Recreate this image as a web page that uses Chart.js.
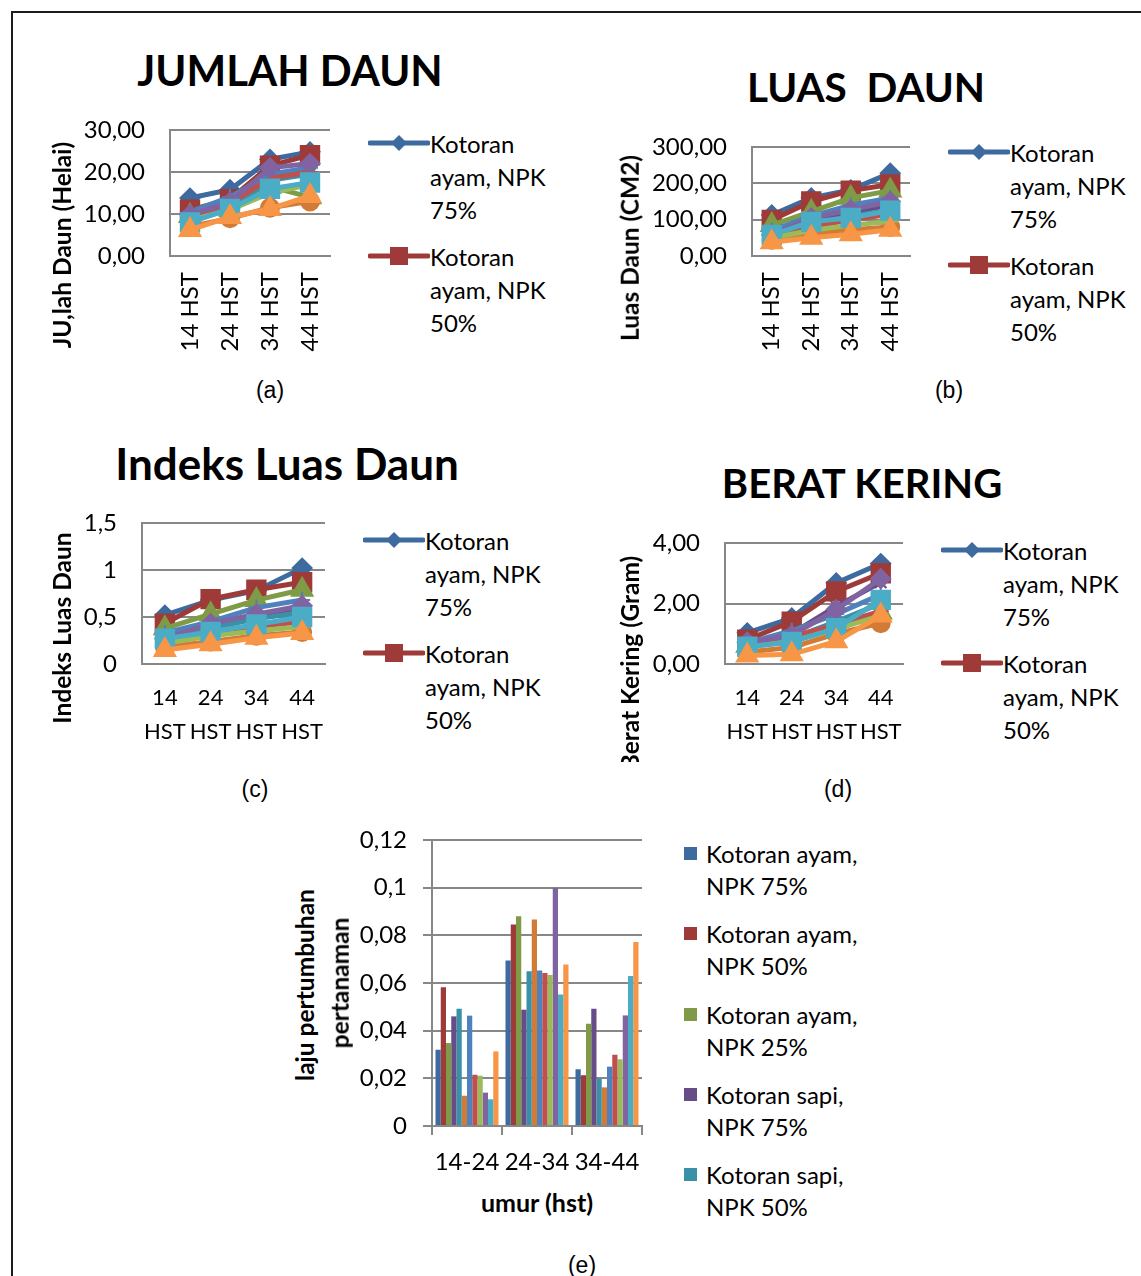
<!DOCTYPE html>
<html>
<head>
<meta charset="utf-8">
<script src="https://cdn.jsdelivr.net/npm/chart.js@4.4.0/dist/chart.umd.min.js"></script>
<style>
  body { margin: 0; width: 1141px; height: 1276px; overflow: hidden; background: #fff; position: relative; font-family: Lato, sans-serif; }
  .frame { position: absolute; left: 11px; top: 11px; width: 1200px; height: 1400px; border: 2px solid #1c1c1c; }
  canvas { position: absolute; }
  .t { position: absolute; white-space: nowrap; line-height: 1; transform: translate(-50%, -50%); color: #000; }
  .title { font-weight: 700; }
  .vt { position: absolute; white-space: nowrap; line-height: 1; transform: translate(-50%, -50%) rotate(-90deg); font-weight: 700; font-size: 24.5px; }
  .cap { font-family: "Liberation Sans", Arial, sans-serif; font-size: 23px; }
  .legend { position: absolute; overflow: hidden; font-size: 24px; color: #000; }
  .entry { position: relative; line-height: 33px; }
  .entry svg { position: absolute; left: 0; top: 6px; }
  .entry .txt { margin-left: 62px; width: 128px; }
  .bentry { position: relative; line-height: 32px; margin-bottom: 16.3px; }
  .bentry i { position: absolute; left: 0; top: 9px; width: 13px; height: 13px; }
  .bentry .txt { margin-left: 22px; width: 170px; }
</style>
</head>
<body>
<div class="frame"></div>

<canvas id="chartA"></canvas>
<canvas id="chartB"></canvas>
<canvas id="chartC"></canvas>
<canvas id="chartD"></canvas>
<canvas id="chartE"></canvas>

<div class="t title" style="left:290px;top:70px;font-size:42px">JUMLAH DAUN</div>
<div class="t title" style="left:866px;top:87px;font-size:40.5px">LUAS&nbsp; DAUN</div>
<div class="t title" style="left:287px;top:463px;font-size:44px">Indeks Luas Daun</div>
<div class="t title" style="left:862px;top:483px;font-size:40px">BERAT KERING</div>

<div class="vt" style="left:62px;top:245px">JU,lah Daun (Helai)</div>
<div class="vt" style="left:630px;top:248px">Luas Daun (CM2)</div>
<div class="vt" style="left:62px;top:628px">Indeks Luas Daun</div>
<div style="position:absolute;left:600px;top:530px;width:60px;height:232px;overflow:hidden">
  <div class="vt" style="left:30px;top:133px">Berat Kering (Gram)</div>
</div>
<div class="vt" style="left:305px;top:985px">laju pertumbuhan</div>
<div class="vt" style="left:340px;top:983px">pertanaman</div>
<div class="t title" style="left:537px;top:1202px;font-size:25px">umur (hst)</div>

<div class="t cap" style="left:270px;top:390px">(a)</div>
<div class="t cap" style="left:949px;top:390px">(b)</div>
<div class="t cap" style="left:255px;top:789px">(c)</div>
<div class="t cap" style="left:838px;top:789px">(d)</div>
<div class="t cap" style="left:582px;top:1265px">(e)</div>

<div class="legend" id="legA" style="left:368px;top:127px;width:200px;height:222px"></div>
<div class="legend" id="legB" style="left:948px;top:136px;width:190px;height:222px"></div>
<div class="legend" id="legC" style="left:363px;top:524px;width:200px;height:222px"></div>
<div class="legend" id="legD" style="left:941px;top:534px;width:200px;height:222px"></div>
<div class="legend" id="legE" style="left:684px;top:838px;width:200px;height:388px"></div>

<script>
// categories and tick labels
const CATEGORIES = ["14 HST", "24 HST", "34 HST", "44 HST"];
const CATEGORIES_WRAPPED = [["14", "HST"], ["24", "HST"], ["34", "HST"], ["44", "HST"]];
const PERIODS = ["14-24", "24-34", "34-44"];

const SERIES = [
  "Kotoran ayam, NPK 75%",
  "Kotoran ayam, NPK 50%",
  "Kotoran ayam, NPK 25%",
  "Kotoran sapi, NPK 75%",
  "Kotoran sapi, NPK 50%",
  "Kotoran sapi, NPK 25%",
  "Kotoran kambing, NPK 75%",
  "Kotoran kambing, NPK 50%",
  "Kotoran kambing, NPK 25%",
  "Kompos, NPK 75%",
  "Kompos, NPK 50%",
  "Kompos, NPK 25%",
];

// (a) jumlah daun (helai)
const jumlahDaun = [
  [13.8, 15.8, 23.0, 24.8],
  [11.0, 13.5, 21.5, 24.0],
  [9.5, 11.0, 16.5, 14.0],
  [9.0, 12.0, 19.0, 20.5],
  [8.5, 11.5, 18.0, 19.5],
  [7.0, 9.0, 11.5, 13.0],
  [10.5, 14.0, 19.5, 21.0],
  [9.5, 12.5, 18.5, 20.0],
  [8.5, 11.0, 15.0, 17.0],
  [9.8, 12.8, 21.0, 22.0],
  [8.0, 11.2, 16.0, 17.5],
  [6.2, 9.3, 11.2, 14.3],
];

// (b) luas daun (cm2)
const luasDaun = [
  [113, 160, 182, 228],
  [99, 150, 180, 197],
  [85, 122, 160, 180],
  [65, 95, 120, 140],
  [60, 88, 110, 125],
  [45, 60, 72, 80],
  [70, 110, 140, 160],
  [55, 80, 100, 115],
  [50, 70, 85, 95],
  [58, 105, 127, 150],
  [58, 94, 105, 125],
  [38, 50, 60, 72],
];

// (c) indeks luas daun
const indeksLuasDaun = [
  [0.52, 0.68, 0.78, 1.02],
  [0.43, 0.69, 0.79, 0.87],
  [0.38, 0.53, 0.68, 0.79],
  [0.30, 0.42, 0.52, 0.60],
  [0.28, 0.38, 0.48, 0.55],
  [0.18, 0.24, 0.30, 0.34],
  [0.33, 0.45, 0.60, 0.68],
  [0.25, 0.33, 0.40, 0.45],
  [0.22, 0.30, 0.35, 0.40],
  [0.27, 0.43, 0.53, 0.62],
  [0.27, 0.34, 0.42, 0.50],
  [0.15, 0.21, 0.28, 0.33],
];

// (d) berat kering (gram)
const beratKering = [
  [1.03, 1.52, 2.68, 3.32],
  [0.80, 1.40, 2.40, 3.00],
  [0.60, 0.80, 1.25, 1.70],
  [0.70, 1.00, 1.90, 2.70],
  [0.60, 0.85, 1.40, 2.00],
  [0.40, 0.55, 1.00, 1.35],
  [0.70, 1.10, 1.65, 2.30],
  [0.60, 0.90, 1.30, 1.75],
  [0.55, 0.75, 1.15, 1.60],
  [0.72, 0.95, 1.80, 2.82],
  [0.57, 0.73, 1.18, 2.12],
  [0.28, 0.32, 0.75, 1.60],
];

// (e) laju pertumbuhan pertanaman
const lajuPertumbuhan = [
  [0.0320, 0.0694, 0.0238],
  [0.0582, 0.0845, 0.0213],
  [0.0348, 0.0880, 0.0429],
  [0.0460, 0.0488, 0.0492],
  [0.0492, 0.0649, 0.0199],
  [0.0127, 0.0866, 0.0162],
  [0.0463, 0.0652, 0.0249],
  [0.0215, 0.0642, 0.0299],
  [0.0211, 0.0634, 0.0280],
  [0.0140, 0.1000, 0.0464],
  [0.0112, 0.0552, 0.0629],
  [0.0313, 0.0678, 0.0772],
];

const COLORS = ["#3d6ba0", "#9e3b38", "#7f9b45", "#664d87", "#3a91a7", "#d27b37",
                "#4f81bd", "#c0504d", "#9bbb59", "#8064a2", "#4bacc6", "#f79646"];
const MARKERS = ["rectRot", "rect", "triangle", "crossRot", "star", "circle",
                 "cross", "dash", "line", "rectRot", "rect", "triangle"];
const RADIUS = { rectRot: 9.5, rect: 13, triangle: 12, circle: 9, crossRot: 8, star: 8, cross: 8, dash: 8, line: 8 };
const GRID = "#878787";
const Y_FONT = { family: "Lato", size: 24 };
const X_FONT = { family: "Lato", size: 24 };
const X_FONT_WRAP = { family: "Lato", size: 22, lineHeight: "34px" };

const fmt2 = (v) => v.toFixed(2).replace(".", ",");
const fmtGeneral = (v) => String(+v.toFixed(2)).replace(".", ",");

// pin the plot area to the pixel box measured on the picture
const fixArea = {
  id: "fixArea",
  afterLayout(chart, args, opts) {
    const p = opts.plot;
    const ca = chart.chartArea;
    ca.left = p.l; ca.top = p.t; ca.right = p.r; ca.bottom = p.b;
    ca.width = p.r - p.l; ca.height = p.b - p.t;
    const x = chart.scales.x, y = chart.scales.y;
    x.left = p.l; x.right = p.r; x.width = p.r - p.l;
    x.top = p.b; x.bottom = chart.height; x.height = chart.height - p.b;
    y.left = 0; y.right = p.l; y.width = p.l;
    y.top = p.t; y.bottom = p.b; y.height = p.b - p.t;
    x.configure();
    y.configure();
  },
};

function place(id, box) {
  const el = document.getElementById(id);
  el.width = box.w;
  el.height = box.h;
  el.style.left = box.x + "px";
  el.style.top = box.y + "px";
  return el;
}

function localPlot(box, plot) {
  return { l: plot.l - box.x, t: plot.t - box.y, r: plot.r - box.x, b: plot.b - box.y };
}

function lineChart(id, box, plot, yMax, step, fmt, labels, values, rotated, xPad) {
  const el = place(id, box);
  return new Chart(el, {
    type: "line",
    data: {
      labels: labels,
      datasets: values.map((vals, i) => ({
        label: SERIES[i],
        data: vals,
        borderColor: COLORS[i],
        backgroundColor: COLORS[i],
        pointBorderColor: COLORS[i],
        pointBackgroundColor: COLORS[i],
        borderWidth: 5,
        pointStyle: MARKERS[i],
        pointRadius: RADIUS[MARKERS[i]],
        pointBorderWidth: 2,
        tension: 0,
        order: 12 - i,
      })),
    },
    plugins: [fixArea],
    options: {
      responsive: false,
      animation: false,
      devicePixelRatio: 1,
      layout: { autoPadding: false, padding: { left: 0, top: plot.t - box.y, right: box.x + box.w - plot.r, bottom: 0 } },
      plugins: {
        legend: { display: false },
        tooltip: { enabled: false },
        title: { display: false },
        fixArea: { plot: localPlot(box, plot) },
      },
      scales: {
        x: {
          type: "category",
          offset: true,
          grid: { display: false, drawTicks: false },
          border: { display: true, color: GRID, width: 2 },
          ticks: {
            color: "#000",
            font: rotated ? X_FONT : X_FONT_WRAP,
            padding: xPad,
            autoSkip: false,
            minRotation: rotated ? 90 : 0,
            maxRotation: rotated ? 90 : 0,
          },
        },
        y: {
          min: 0,
          max: yMax,
          ticks: { stepSize: step, color: "#000", font: Y_FONT, padding: 25, autoSkip: false, callback: fmt },
          grid: { color: GRID, lineWidth: 2, drawTicks: false },
          border: { color: GRID, width: 2 },
        },
      },
    },
  });
}

lineChart("chartA", { x: 40, y: 100, w: 305, h: 260 }, { l: 170, t: 130, r: 330, b: 256 },
  30, 10, fmt2, CATEGORIES, jumlahDaun, true, 16);
lineChart("chartB", { x: 640, y: 115, w: 280, h: 245 }, { l: 752, t: 147, r: 910, b: 256 },
  300, 100, fmt2, CATEGORIES, luasDaun, true, 16);
lineChart("chartC", { x: 40, y: 495, w: 295, h: 265 }, { l: 142, t: 523, r: 325, b: 664 },
  1.5, 0.5, fmtGeneral, CATEGORIES_WRAPPED, indeksLuasDaun, false, 17);
lineChart("chartD", { x: 640, y: 515, w: 273, h: 245 }, { l: 725, t: 543, r: 903, b: 664 },
  4, 2, fmt2, CATEGORIES_WRAPPED, beratKering, false, 17);

// bar chart (e)
(function () {
  const box = { x: 340, y: 812, w: 310, h: 368 };
  const plot = { l: 432, t: 840, r: 642, b: 1126 };
  const el = place("chartE", box);
  new Chart(el, {
    type: "bar",
    data: {
      labels: PERIODS,
      datasets: lajuPertumbuhan.map((vals, i) => ({
        label: SERIES[i],
        data: vals,
        backgroundColor: COLORS[i],
        borderWidth: 0,
        categoryPercentage: 0.9,
        barPercentage: 1,
      })),
    },
    plugins: [fixArea],
    options: {
      responsive: false,
      animation: false,
      devicePixelRatio: 1,
      layout: { autoPadding: false, padding: { left: 0, top: plot.t - box.y, right: box.x + box.w - plot.r, bottom: 0 } },
      plugins: {
        legend: { display: false },
        tooltip: { enabled: false },
        fixArea: { plot: localPlot(box, plot) },
      },
      scales: {
        x: {
          offset: true,
          grid: { offset: true, drawOnChartArea: false, drawTicks: true, tickLength: 9, color: GRID, lineWidth: 2 },
          border: { color: GRID, width: 2 },
          ticks: { color: "#000", font: X_FONT, padding: 13, autoSkip: false, minRotation: 0, maxRotation: 0 },
        },
        y: {
          min: 0,
          max: 0.12,
          ticks: { stepSize: 0.02, color: "#000", font: Y_FONT, padding: 16, autoSkip: false, callback: fmtGeneral },
          grid: { color: GRID, lineWidth: 2, drawTicks: true, tickLength: 9 },
          border: { color: GRID, width: 2 },
        },
      },
    },
  });
})();

// legends
function markerSvg(i) {
  const c = COLORS[i];
  let m = "";
  if (MARKERS[i] === "rectRot") m = `<polygon points="31,2 39,10 31,18 23,10" fill="${c}"/>`;
  else if (MARKERS[i] === "rect") m = `<rect x="22" y="1" width="18" height="18" fill="${c}"/>`;
  else if (MARKERS[i] === "triangle") m = `<polygon points="31,0 41,18 21,18" fill="${c}"/>`;
  else m = `<circle cx="31" cy="10" r="8" fill="${c}"/>`;
  return `<svg width="62" height="20"><line x1="2" y1="10" x2="60" y2="10" stroke="${c}" stroke-width="5" stroke-linecap="round"/>${m}</svg>`;
}

function lineLegend(id) {
  document.getElementById(id).innerHTML = SERIES.map((name, i) =>
    `<div class="entry" style="margin-bottom:14px">${markerSvg(i)}<div class="txt">${name}</div></div>`
  ).join("");
}
["legA", "legB", "legC", "legD"].forEach(lineLegend);

document.getElementById("legE").innerHTML = SERIES.map((name, i) =>
  `<div class="bentry"><i style="background:${COLORS[i]}"></i><div class="txt">${name}</div></div>`
).join("");
</script>
</body>
</html>
